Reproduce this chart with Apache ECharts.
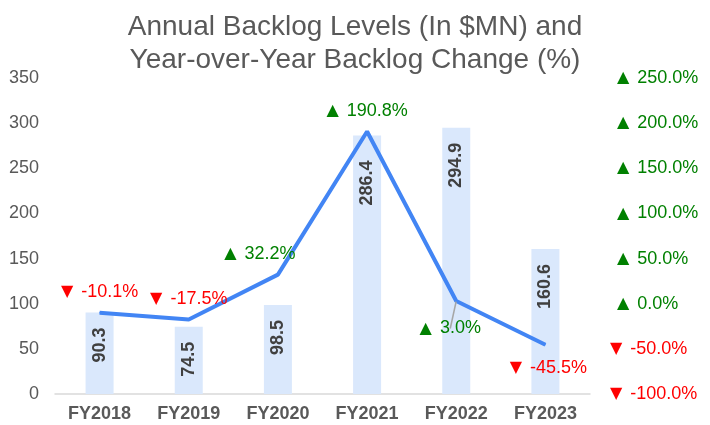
<!DOCTYPE html>
<html>
<head>
<meta charset="utf-8">
<script src="https://cdn.jsdelivr.net/npm/echarts@6/dist/echarts.min.js"></script>
<style>html,body{margin:0;padding:0;background:#fff}#c{width:710px;height:425px}</style>
</head>
<body>
<div id="c"></div>
<script>
const categories = ['FY2018', 'FY2019', 'FY2020', 'FY2021', 'FY2022', 'FY2023'];
const backlog = [90.3, 74.5, 98.5, 286.4, 294.9, 160.6];
const yoyChange = [-10.1, -17.5, 32.2, 190.8, 3.0, -45.5];
const leftTicks = { min: 0, max: 350, interval: 50 };
const rightTicks = { min: -100, max: 250, interval: 50 };

const FONT = '"Liberation Sans", Arial, sans-serif';
const GREEN = '#008000', RED = '#FF0000';

function pct(v, pad) {
  if (v >= 0) return (pad ? '{sp|}' : '') + '{gt|▲}{gap|}{g|' + v.toFixed(1) + '%}';
  return '{rt|▼}{gap|}{r|' + v.toFixed(1) + '%}';
}
const richPct = {
  sp: { width: 7 },
  gap: { width: 8 },
  gt: { color: GREEN, fontSize: 16, fontFamily: '"DejaVu Sans"' },
  rt: { color: RED, fontSize: 16, fontFamily: '"DejaVu Sans"' },
  g: { color: GREEN, fontSize: 18, fontFamily: FONT },
  r: { color: RED, fontSize: 18, fontFamily: FONT }
};

const lineData = yoyChange.map((v, i) => {
  const item = { value: v };
  if (i === 2) item.label = { offset: [-18, 0] };
  if (i === 4) {
    item.label = { position: 'bottom', distance: 18, offset: [-6, 0] };
    item.labelLine = { show: true, lineStyle: { color: '#a6a6a6', width: 1.5 } };
  }
  if (i === 5) item.label = { position: 'bottom', distance: 14, offset: [3, 0] };
  return item;
});

const chart = echarts.init(document.getElementById('c'), null, { renderer: 'canvas' });
chart.setOption({
  animation: false,
  backgroundColor: '#fff',
  textStyle: { fontFamily: FONT },
  title: {
    text: 'Annual Backlog Levels (In $MN) and\nYear-over-Year Backlog Change (%)',
    left: 'center',
    top: 6,
    textStyle: { fontSize: 28, lineHeight: 33, fontWeight: 'normal', color: '#595959', fontFamily: FONT }
  },
  grid: { left: 55, right: 120, top: 78, bottom: 31 },
  xAxis: {
    type: 'category',
    data: categories,
    axisLine: { lineStyle: { color: '#d9d9d9', width: 1.5 } },
    axisTick: { show: false },
    axisLabel: { color: '#595959', fontSize: 18, fontWeight: 'bold', margin: 11, fontFamily: FONT }
  },
  yAxis: [
    {
      type: 'value', min: leftTicks.min, max: leftTicks.max, interval: leftTicks.interval,
      axisLine: { show: false }, axisTick: { show: false }, splitLine: { show: false },
      axisLabel: { color: '#595959', fontSize: 18, margin: 16, fontFamily: FONT }
    },
    {
      type: 'value', min: rightTicks.min, max: rightTicks.max, interval: rightTicks.interval,
      axisLine: { show: false }, axisTick: { show: false }, splitLine: { show: false },
      axisLabel: { align: 'left', margin: 20, formatter: v => pct(v, true), rich: richPct }
    }
  ],
  series: [
    {
      type: 'bar',
      data: backlog.map((v, i) => i === 3 ? { value: v, label: { distance: 25 } } : v),
      barWidth: 28,
      itemStyle: { color: '#DAE8FC' },
      label: {
        show: true, position: 'insideTop', rotate: 90, align: 'right', verticalAlign: 'middle',
        distance: 15, color: '#404040', fontSize: 18, fontWeight: 'bold', fontFamily: FONT,
        formatter: p => Number(p.value).toFixed(1)
      }
    },
    {
      type: 'line',
      yAxisIndex: 1,
      data: lineData,
      symbol: 'circle',
      symbolSize: 1,
      itemStyle: { color: '#4285F4' },
      lineStyle: { color: '#4285F4', width: 4 },
      label: {
        show: true, position: 'top', distance: 11,
        formatter: p => pct(p.value, false), rich: richPct
      }
    }
  ]
});
</script>
</body>
</html>
